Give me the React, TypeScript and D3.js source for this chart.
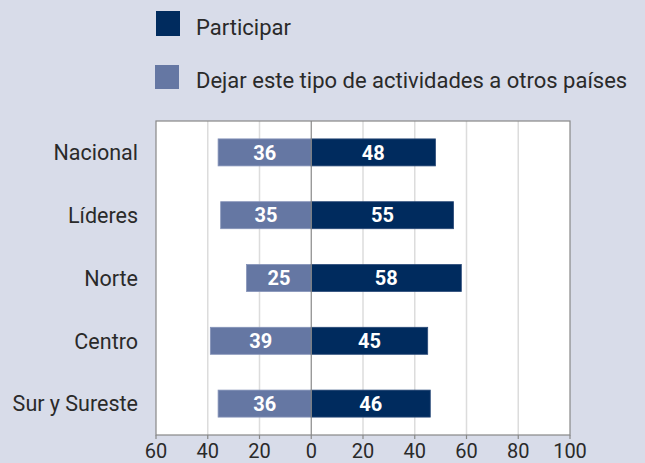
import { useMemo } from "react";
import * as d3 from "d3";

const WIDTH = 645;
const HEIGHT = 463;
const MARGIN = { top: 121, right: 75, bottom: 28, left: 156 };

const categories = ["Nacional", "Líderes", "Norte", "Centro", "Sur y Sureste"];
const participar = [48, 55, 58, 45, 46];
const dejar = [36, 35, 25, 39, 36];
const ticks = [-60, -40, -20, 0, 20, 40, 60, 80, 100];
const seriesNames = ["Participar", "Dejar este tipo de actividades a otros países"];

const DARK = "#002b5e";
const LIGHT = "#6577a3";
const BG = "#d8dce9";
const FONT = "Roboto, 'DejaVu Sans', sans-serif";

export default function App() {
  const innerW = WIDTH - MARGIN.left - MARGIN.right;
  const innerH = HEIGHT - MARGIN.top - MARGIN.bottom;

  const x = useMemo(() => d3.scaleLinear().domain([-60, 100]).range([0, innerW]), [innerW]);
  const y = useMemo(
    () => d3.scaleBand().domain(categories).range([0, innerH]).paddingInner(0.57).paddingOuter(0.285),
    [innerH]
  );

  return (
    <svg width={WIDTH} height={HEIGHT} style={{ position: "absolute", left: 0, top: 0, background: BG }}>
      <rect width={WIDTH} height={HEIGHT} fill={BG} />

      {/* legend */}
      <g fontFamily={FONT} fontSize={22} fill="#2a2a2a">
        <rect x={156} y={11} width={24} height={25} fill={DARK} />
        <text x={196} y={35}>{seriesNames[0]}</text>
        <rect x={155} y={65} width={24} height={24} fill={LIGHT} />
        <text x={196} y={88}>{seriesNames[1]}</text>
      </g>

      <g transform={`translate(${MARGIN.left},${MARGIN.top})`}>
        <rect width={innerW} height={innerH} fill="#fff" />
        {ticks
          .filter((t) => t !== 0 && t !== -60 && t !== 100)
          .map((t) => (
            <line key={t} x1={x(t)} x2={x(t)} y1={0} y2={innerH} stroke="#dcdcdc" strokeWidth={1.5} />
          ))}

        {categories.map((c, i) => {
          const by = y(c)!;
          const bh = y.bandwidth();
          const x0 = x(0);
          const xl = x(-dejar[i]);
          const xr = x(participar[i]);
          return (
            <g key={c}>
              <rect x={xl} y={by} width={x0 - xl} height={bh} fill={LIGHT} stroke="#8593b8" strokeWidth={0.8} />
              <rect x={x0} y={by} width={xr - x0} height={bh} fill={DARK} stroke="#2a4a78" strokeWidth={0.8} />
              <text
                x={(xl + x0) / 2}
                y={by + bh / 2}
                dy="0.36em"
                textAnchor="middle"
                fill="#fff"
                fontFamily={FONT}
                fontWeight="bold"
                fontSize={20}
              >
                {dejar[i]}
              </text>
              <text
                x={(xr + x0) / 2}
                y={by + bh / 2}
                dy="0.36em"
                textAnchor="middle"
                fill="#fff"
                fontFamily={FONT}
                fontWeight="bold"
                fontSize={20}
              >
                {participar[i]}
              </text>
              <text
                x={-18}
                y={by + bh / 2}
                dy="0.36em"
                textAnchor="end"
                fill="#2a2a2a"
                fontFamily={FONT}
                fontSize={21.5}
              >
                {c}
              </text>
            </g>
          );
        })}

        <line x1={x(0)} x2={x(0)} y1={0} y2={innerH} stroke="#888" strokeWidth={1.2} />
        <rect width={innerW} height={innerH} fill="none" stroke="#888" strokeWidth={1.2} />

        {ticks.map((t) => (
          <g key={t} transform={`translate(${x(t)},${innerH})`}>
            <line y1={0} y2={4} stroke="#888" strokeWidth={1.2} />
            <text y={23} textAnchor="middle" fill="#2a2a2a" fontFamily={FONT} fontSize={20}>
              {Math.abs(t)}
            </text>
          </g>
        ))}
      </g>
    </svg>
  );
}
